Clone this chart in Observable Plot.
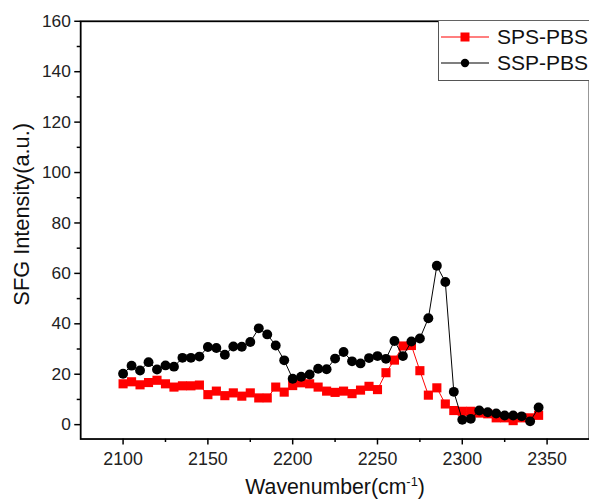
<!DOCTYPE html>
<html>
<head>
<meta charset="utf-8">
<script src="https://cdn.jsdelivr.net/npm/d3@7"></script>
<script src="https://cdn.jsdelivr.net/npm/@observablehq/plot@0.6"></script>
<style>
  html, body { margin: 0; padding: 0; background: #fff; overflow: hidden; }
  #wrap { position: relative; width: 589px; height: 504px; overflow: hidden; }
  #legend {
    position: absolute; left: 438px; top: 21px; width: 170px; height: 60px;
    border: 1px solid #555; border-top: none; background: #fff; box-sizing: border-box;
    font-family: "Liberation Sans", Arial, sans-serif; font-size: 21px; color: #111;
  }
  #legend .row { position: absolute; left: 0; height: 24px; display: flex; align-items: center; }
  #legend svg { margin-left: 2px; margin-right: 6px; }
</style>
</head>
<body>
<div id="wrap">
  <div id="chart"></div>
  <div id="legend"></div>
</div>
<script>
// Wavenumbers (cm^-1) of the scan
const wavenumber = [
  2100, 2105, 2110, 2115, 2120, 2125, 2130, 2135, 2140, 2145,
  2150, 2155, 2160, 2165, 2170, 2175, 2180, 2185, 2190, 2195,
  2200, 2205, 2210, 2215, 2220, 2225, 2230, 2235, 2240, 2245,
  2250, 2255, 2260, 2265, 2270, 2275, 2280, 2285, 2290, 2295,
  2300, 2305, 2310, 2315, 2320, 2325, 2330, 2335, 2340, 2345
];

// SFG intensity, SPS polarization
const spsPBS = [
  16.2, 17.0, 15.8, 16.7, 17.6, 16.2, 14.9, 15.4, 15.4, 15.7,
  11.9, 13.3, 11.5, 12.6, 11.3, 12.6, 10.6, 10.6, 14.9, 12.9,
  15.5, 16.6, 16.2, 14.9, 13.3, 12.8, 13.3, 12.3, 13.7, 15.2,
  13.9, 20.6, 25.6, 31.2, 31.4, 21.4, 11.7, 14.6, 8.2, 5.6,
  5.3, 5.3, 4.6, 4.3, 2.7, 2.7, 1.6, 2.7, 2.7, 3.7
];

// SFG intensity, SSP polarization
const sspPBS = [
  20.2, 23.4, 21.5, 24.8, 21.9, 23.5, 23.0, 26.5, 26.5, 27.0,
  30.8, 30.4, 27.7, 31.0, 30.9, 32.8, 38.2, 35.8, 31.4, 25.5,
  18.2, 19.0, 19.9, 22.2, 22.0, 26.2, 28.8, 25.1, 24.3, 26.4,
  27.2, 26.1, 33.2, 27.2, 33.0, 34.2, 42.2, 63.0, 56.6, 13.0,
  1.9, 2.3, 5.6, 4.9, 4.4, 3.6, 3.6, 3.3, 1.3, 6.8
];

const seriesNames = ["SPS-PBS", "SSP-PBS"];
const seriesColors = ["#ff0000", "#000000"];

const xMajor = [2100, 2150, 2200, 2250, 2300, 2350];
const xMinor = [2125, 2175, 2225, 2275, 2325];
const yMajor = [0, 20, 40, 60, 80, 100, 120, 140, 160];
const yMinor = [10, 30, 50, 70, 90, 110, 130, 150];

const sps = wavenumber.map((w, i) => ({w, v: spsPBS[i]}));
const ssp = wavenumber.map((w, i) => ({w, v: sspPBS[i]}));

const font = "'Liberation Sans', Arial, sans-serif";

const chart = Plot.plot({
  width: 595,
  height: 504,
  marginLeft: 81,
  marginRight: 0,
  marginTop: 21,
  marginBottom: 61,
  style: {fontFamily: font, background: "#fff", overflow: "visible"},
  x: {domain: [2075, 2375]},
  y: {domain: [-5.7, 160]},
  marks: [
    Plot.axisX(xMajor, {tickSize: 6, tickPadding: 7, fontSize: 18, fill: "#222", stroke: "#000", strokeWidth: 1.5, label: null, tickFormat: d => String(d)}),
    Plot.axisX(xMinor, {tickSize: 3.5, text: null, stroke: "#000", strokeWidth: 1.5, label: null}),
    Plot.axisY(yMajor, {tickSize: 6, tickPadding: 4, fontSize: 17.5, fill: "#222", stroke: "#000", strokeWidth: 1.5, label: null}),
    Plot.axisY(yMinor, {tickSize: 3.5, text: null, stroke: "#000", strokeWidth: 1.5, label: null}),
    Plot.frame({stroke: "#000", strokeWidth: 1.8}),
    Plot.line(sps, {x: "w", y: "v", stroke: seriesColors[0], strokeWidth: 1}),
    Plot.dot(sps, {x: "w", y: "v", symbol: "square", r: 5.2, fill: seriesColors[0], stroke: "none"}),
    Plot.line(ssp, {x: "w", y: "v", stroke: seriesColors[1], strokeWidth: 1}),
    Plot.dot(ssp, {x: "w", y: "v", symbol: "circle", r: 5, fill: seriesColors[1], stroke: "none"}),
    Plot.text(["SFG Intensity(a.u.)"], {frameAnchor: "left", textAnchor: "middle", dx: -59, dy: -16, rotate: -90, fontSize: 22, fill: "#111"}),
    Plot.text(["Wavenumber(cm-1)"], {frameAnchor: "bottom", lineAnchor: "middle", dy: 49, fontSize: 21.5, fill: "#111", className: "xtitle"})
  ]
});
document.getElementById("chart").appendChild(chart);

// superscript "-1" in the x-axis title
d3.select(chart).selectAll(".xtitle text").each(function () {
  const t = d3.select(this);
  t.text(null);
  t.append("tspan").text("Wavenumber(cm");
  t.append("tspan").attr("dy", "-8").attr("font-size", 13).text("-1");
  t.append("tspan").attr("dy", "8").text(")");
});

// legend
const legend = d3.select("#legend");
seriesNames.forEach((name, i) => {
  const row = legend.append("div").attr("class", "row").style("top", (i === 0 ? 4 : 30) + "px");
  const s = row.append("svg").attr("width", 50).attr("height", 20);
  s.append("line").attr("x1", 0).attr("x2", 48).attr("y1", 10).attr("y2", 10)
    .attr("stroke", seriesColors[i]).attr("stroke-width", 1.2);
  if (i === 0) {
    s.append("rect").attr("x", 19.5).attr("y", 5.5).attr("width", 9).attr("height", 9).attr("fill", seriesColors[i]);
  } else {
    s.append("circle").attr("cx", 24).attr("cy", 10).attr("r", 4.2).attr("fill", seriesColors[i]);
  }
  row.append("span").text(name);
});
</script>
</body>
</html>
